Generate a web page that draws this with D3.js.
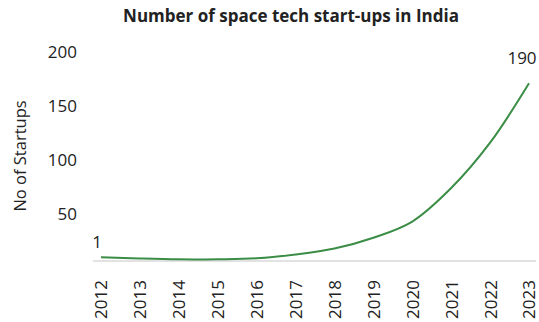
<!DOCTYPE html>
<head>
  <meta charset="utf-8">
  <script src="https://d3js.org/d3.v7.min.js"></script>
  <style>
    body { margin:0; background:#fff; }
    text { font-family:"Open Sans", "Noto Sans", sans-serif; fill:#222; }
  </style>
</head>
<body>
<script>

/* Data */
/* ==== */

var years = [2012, 2013, 2014, 2015, 2016, 2017, 2018, 2019, 2020, 2021, 2022, 2023];
var startups = [10, 8.8, 8, 8.1, 9, 12.5, 18, 28, 43, 74, 116, 171];
var yTicks = [50, 100, 150, 200];
var endLabels = ["1", "190"];

/* Set up */
/* ====== */

var width = 539,
    height = 322;

var svg = d3.select('body')
  .append('svg')
    .attr('width', width)
    .attr('height', height);

var x = d3.scalePoint()
    .domain(years)
    .range([101, 529]);

var y = d3.scaleLinear()
    .domain([0, 200])
    .range([268, 52]);

var axisY = 261;

// title
svg.append('text')
    .attr('x', 291)
    .attr('y', 22)
    .attr('text-anchor', 'middle')
    .style('font-size', '17px')
    .style('font-weight', 'bold')
    .text('Number of space tech start-ups in India');

// y axis label
svg.append('text')
    .attr('transform', 'translate(26,156) rotate(-90)')
    .attr('text-anchor', 'middle')
    .style('font-size', '16.5px')
    .text('No of Startups');

// y ticks (no line)
var yAxis = svg.append('g')
    .attr('transform', 'translate(77,0)')
    .call(d3.axisLeft(y).tickValues(yTicks).tickSize(0).tickPadding(0));
yAxis.select('.domain').remove();
yAxis.selectAll('text')
    .style('font-size', '17px')
    .style('font-family', '"Open Sans", "Noto Sans", sans-serif')
    .attr('fill', '#222');

// x axis
svg.append('line')
    .attr('x1', 93)
    .attr('x2', 536)
    .attr('y1', axisY)
    .attr('y2', axisY)
    .attr('stroke', '#d9d9d9')
    .attr('stroke-width', 1.5);

var xAxis = svg.append('g')
    .attr('transform', 'translate(0,' + axisY + ')')
    .call(d3.axisBottom(x).tickSize(0).tickPadding(0));
xAxis.select('.domain').remove();
xAxis.selectAll('text')
    .style('font-size', '17px')
    .style('font-family', '"Open Sans", "Noto Sans", sans-serif')
    .attr('fill', '#222')
    .attr('text-anchor', 'end')
    .attr('transform', 'rotate(-90)')
    .attr('x', -19)
    .attr('y', 0)
    .attr('dy', '0.35em');

// line
var line = d3.line()
    .x(function(d, i) { return x(years[i]); })
    .y(function(d) { return y(d); })
    .curve(d3.curveCatmullRom.alpha(0.5));

svg.append('path')
    .datum(startups)
    .attr('d', line)
    .attr('fill', 'none')
    .attr('stroke', '#3b8d46')
    .attr('stroke-width', 2);

// end labels
svg.append('text')
    .attr('x', x(years[0]) - 4)
    .attr('y', y(startups[0]) - 9)
    .attr('text-anchor', 'middle')
    .style('font-size', '17px')
    .text(endLabels[0]);

svg.append('text')
    .attr('x', x(years[years.length - 1]) - 7)
    .attr('y', y(startups[startups.length - 1]) - 19)
    .attr('text-anchor', 'middle')
    .style('font-size', '17px')
    .text(endLabels[1]);

</script>
</body>
